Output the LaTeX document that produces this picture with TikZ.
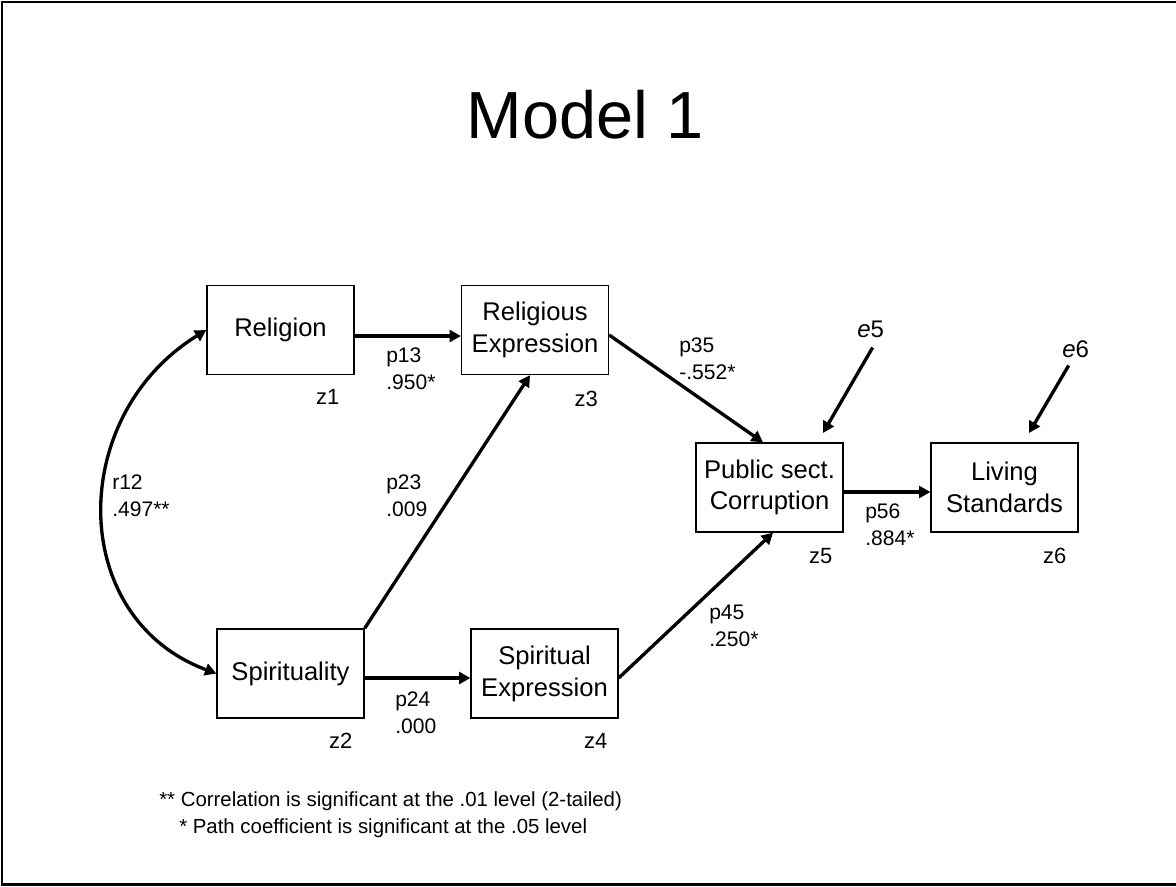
\documentclass[tikz,border=0pt]{standalone}
\usepackage{fontspec}
\setmainfont{Liberation Sans}
\usetikzlibrary{arrows.meta,calc}
\begin{document}
\begin{tikzpicture}[x=0.75pt,y=-0.75pt,
  box/.style={draw,line width=1pt,minimum width=110.25pt,minimum height=66.75pt,
    inner sep=0pt,align=center,font=\fontsize{19.2}{23.8}\selectfont},
  tip/.tip={Triangle[length=8.5pt,width=9pt]},
  patharrow/.style={line width=2.5pt,-tip},
  corrarrow/.style={line width=2.5pt,tip-tip},
  coef/.style={anchor=west,align=left,inner sep=0pt,font=\fontsize{15.8}{20.25}\selectfont},
  zlab/.style={anchor=base,inner sep=0pt,font=\fontsize{16.5}{19}\selectfont},
  elab/.style={anchor=base west,inner sep=0pt,font=\fontsize{18}{20}\selectfont},
  note/.style={anchor=base west,inner sep=0pt,font=\fontsize{15.3}{18}\selectfont}]
\useasboundingbox (0,0) rectangle (1176,886);
% slide frame
\draw[line width=2pt] (1176,2) -- (2,2) -- (2,884.5) -- (1176,884.5);

% title
\node[anchor=base,inner sep=0pt,font=\fontsize{50}{56}\selectfont] (title) at (585.5,138) {Model 1};

% variables
\node[box] (rel)     at (280.5,330)   {Religion};
\node[box] (relexp)  at (535,330)     {Religious\\Expression};
\node[box] (spir)    at (290.5,673.5) {Spirituality};
\node[box] (spirexp) at (544.5,673.5) {Spiritual\\Expression};
\node[box] (pub)     at (769.5,487.5) {Public sect.\\Corruption};
\node[box] (liv)     at (1004.5,487.5) {Living\\Standards};

% standardised labels under boxes
\node[zlab] (z1) at ($(rel.south east)+(-27,29)$) {z1};
\node[zlab] (z2) at ($(spir.south east)+(-24,30)$) {z2};
\node[zlab] (z3) at ($(relexp.south east)+(-23,31)$) {z3};
\node[zlab] (z4) at ($(spirexp.south east)+(-23,30)$) {z4};
\node[zlab] (z5) at ($(pub.south east)+(-23,31)$) {z5};
\node[zlab] (z6) at ($(liv.south east)+(-24,31)$) {z6};

% error terms
\node[elab] (e5) at (857,337) {\textit{e}5};
\node[elab] (e6) at (1062,357) {\textit{e}6};
\coordinate (e5tip) at (823,433);
\coordinate (e6tip) at (1029,433);

% correlation
\draw[corrarrow] (spir.west) .. controls (67,618) and (67,416) .. (rel.west);

% paths
\draw[patharrow] ($(rel.east)+(0,6)$) -- ($(relexp.west)+(0,6)$);
\draw[patharrow] (spir.north east) -- ($(relexp.south)+(-5,0)$);
\draw[patharrow] ($(spir.east)+(0,4.5)$) -- ($(spirexp.west)+(0,4.5)$);
\draw[patharrow] ($(relexp.east)+(0,5)$) -- ($(pub.north)+(-6.5,0)$);
\draw[patharrow] ($(spirexp.east)+(0,4.5)$) -- ($(pub.south)+(3.5,0)$);
\draw[patharrow] ($(pub.east)+(0,4.5)$) -- ($(liv.west)+(0,4.5)$);
\draw[patharrow] ($(e5.south)+(2,10)$) -- (e5tip);
\draw[patharrow] ($(e6.south)+(-7,8)$) -- (e6tip);

% coefficients
\node[coef] (c12) at (112,496)   {r12\\.497**};
\node[coef] (c13) at (386,369)   {p13\\.950*};
\node[coef] (c23) at (386,496)   {p23\\.009};
\node[coef] (c24) at (395,713)   {p24\\.000};
\node[coef] (c35) at (679,359)   {p35\\-.552*};
\node[coef] (c45) at (709,625.5) {p45\\.250*};
\node[coef] (c56) at (865,525)   {p56\\.884*};

% notes
\node[note] (n1) at (159,806) {** Correlation is significant at the .01 level (2-tailed)};
\node[note] (n2) at (179,833) {* Path coefficient is significant at the .05 level};
\end{tikzpicture}
\end{document}
